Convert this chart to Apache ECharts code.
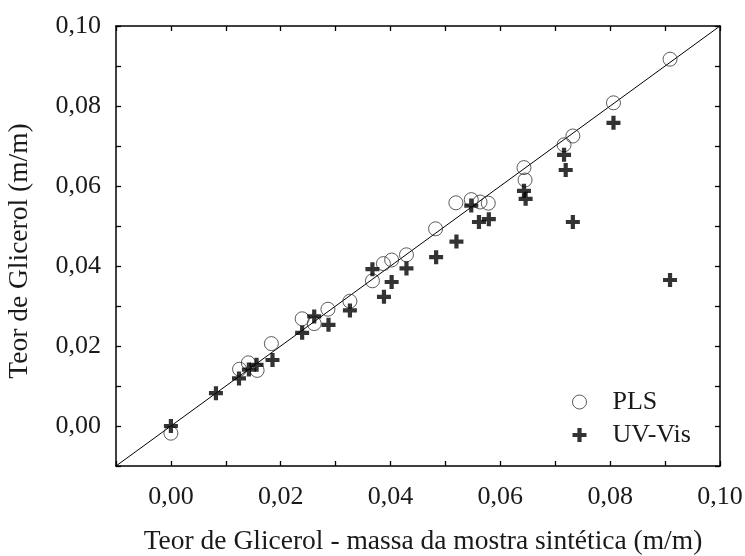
<!DOCTYPE html>
<html>
<head>
<meta charset="utf-8">
<script src="https://cdn.jsdelivr.net/npm/echarts@6/dist/echarts.min.js"></script>
<style>
  html, body { margin: 0; padding: 0; background: #fff; }
  #chart { width: 745px; height: 556px; }
</style>
</head>
<body>
<div id="chart"></div>
<script>
// Glycerol content: reference mass (x) vs. predicted value (y), both in m/m
const plsPoints = [
  [0.0000, -0.0018], [0.0125, 0.0142], [0.0141, 0.0158], [0.0157, 0.0139],
  [0.0183, 0.0206], [0.0239, 0.0268], [0.0261, 0.0256], [0.0286, 0.0292],
  [0.0326, 0.0312], [0.0367, 0.0363], [0.0387, 0.0406], [0.0402, 0.0415],
  [0.0429, 0.0428], [0.0482, 0.0493], [0.0519, 0.0558], [0.0547, 0.0566],
  [0.0563, 0.0560], [0.0578, 0.0557], [0.0643, 0.0646], [0.0645, 0.0615],
  [0.0716, 0.0703], [0.0732, 0.0725], [0.0806, 0.0808], [0.0909, 0.0917]
];
const uvVisPoints = [
  [0.0000, 0.0000], [0.0082, 0.0082], [0.0124, 0.0119], [0.0142, 0.0141],
  [0.0156, 0.0153], [0.0185, 0.0165], [0.0239, 0.0233], [0.0261, 0.0274],
  [0.0287, 0.0253], [0.0326, 0.0289], [0.0367, 0.0392], [0.0388, 0.0323],
  [0.0402, 0.0360], [0.0429, 0.0394], [0.0483, 0.0422], [0.0520, 0.0461],
  [0.0547, 0.0551], [0.0561, 0.0510], [0.0579, 0.0517], [0.0643, 0.0588],
  [0.0646, 0.0568], [0.0716, 0.0678], [0.0719, 0.0640], [0.0732, 0.0510],
  [0.0806, 0.0758], [0.0909, 0.0365]
];
// y = x reference line across the full axis range
const identityLine = [[-0.01, -0.01], [0.10, 0.10]];

const axisMin = -0.01;
const axisMax = 0.10;
const tickStep = 0.01;

const seriesNames = ['PLS', 'UV-Vis'];
const xTitle = 'Teor de Glicerol - massa da mostra sintética (m/m)';
const yTitle = 'Teor de Glicerol (m/m)';

const FONT = '"Liberation Serif", "Times New Roman", serif';
const TEXT = '#1a1a1a';
const PLUS = 'path://M3.5,0 H6.5 V3.5 H10 V6.5 H6.5 V10 H3.5 V6.5 H0 V3.5 H3.5 Z';

function tickLabel(v) {
  const n = Math.round(v * 100);
  if (n < 0 || n % 2 !== 0) return '';
  return (n / 100).toFixed(2).replace('.', ',');
}

const baseAxis = {
  type: 'value',
  min: axisMin,
  max: axisMax,
  interval: tickStep,
  splitLine: { show: false },
  axisLine: { show: true, onZero: false, lineStyle: { color: '#000', width: 1.5 } },
  axisTick: { show: true, inside: true, length: 5, lineStyle: { color: '#000', width: 1.3 } }
};

const chart = echarts.init(document.getElementById('chart'), null, { renderer: 'canvas' });
chart.setOption({
  animation: false,
  backgroundColor: '#fff',
  grid: { left: 116, right: 25, top: 26, bottom: 90, containLabel: false, outerBoundsMode: 'none' },
  xAxis: [
    Object.assign({}, baseAxis, {
      position: 'bottom',
      name: xTitle,
      nameLocation: 'middle',
      nameGap: 62,
      nameTextStyle: { fontFamily: FONT, fontSize: 27.5, color: TEXT, padding: [0, 0, 0, 10] },
      axisLabel: { formatter: tickLabel, margin: 18, fontFamily: FONT, fontSize: 26, color: TEXT }
    }),
    Object.assign({}, baseAxis, { position: 'top', axisLabel: { show: false } })
  ],
  yAxis: [
    Object.assign({}, baseAxis, {
      position: 'left',
      name: yTitle,
      nameLocation: 'middle',
      nameGap: 82,
      nameTextStyle: { fontFamily: FONT, fontSize: 27.5, color: TEXT, padding: [0, 10, 0, 0] },
      axisLabel: { formatter: tickLabel, margin: 15, fontFamily: FONT, fontSize: 26, color: TEXT }
    }),
    Object.assign({}, baseAxis, { position: 'right', axisLabel: { show: false } })
  ],
  legend: {
    orient: 'vertical',
    left: 567,
    top: 384,
    itemWidth: 56,
    itemHeight: 14,
    itemGap: 7,
    textStyle: { fontFamily: FONT, fontSize: 26, color: TEXT },
    data: [
      { name: seriesNames[0], icon: 'circle',
        itemStyle: { color: 'rgba(255,255,255,0)', borderColor: '#333', borderWidth: 1 } },
      { name: seriesNames[1], icon: PLUS,
        itemStyle: { color: '#000', borderWidth: 0 } }
    ]
  },
  series: [
    {
      type: 'line',
      data: identityLine,
      symbol: 'none',
      silent: true,
      lineStyle: { color: '#000', width: 1 },
      z: 1
    },
    {
      name: seriesNames[0],
      type: 'scatter',
      data: plsPoints,
      symbol: 'circle',
      symbolSize: 14,
      itemStyle: { color: 'rgba(255,255,255,0)', borderColor: '#333', borderWidth: 1 },
      z: 2
    },
    {
      name: seriesNames[1],
      type: 'scatter',
      data: uvVisPoints,
      symbol: PLUS,
      symbolSize: 14,
      itemStyle: { color: '#000' },
      z: 3
    }
  ]
});
</script>
</body>
</html>
